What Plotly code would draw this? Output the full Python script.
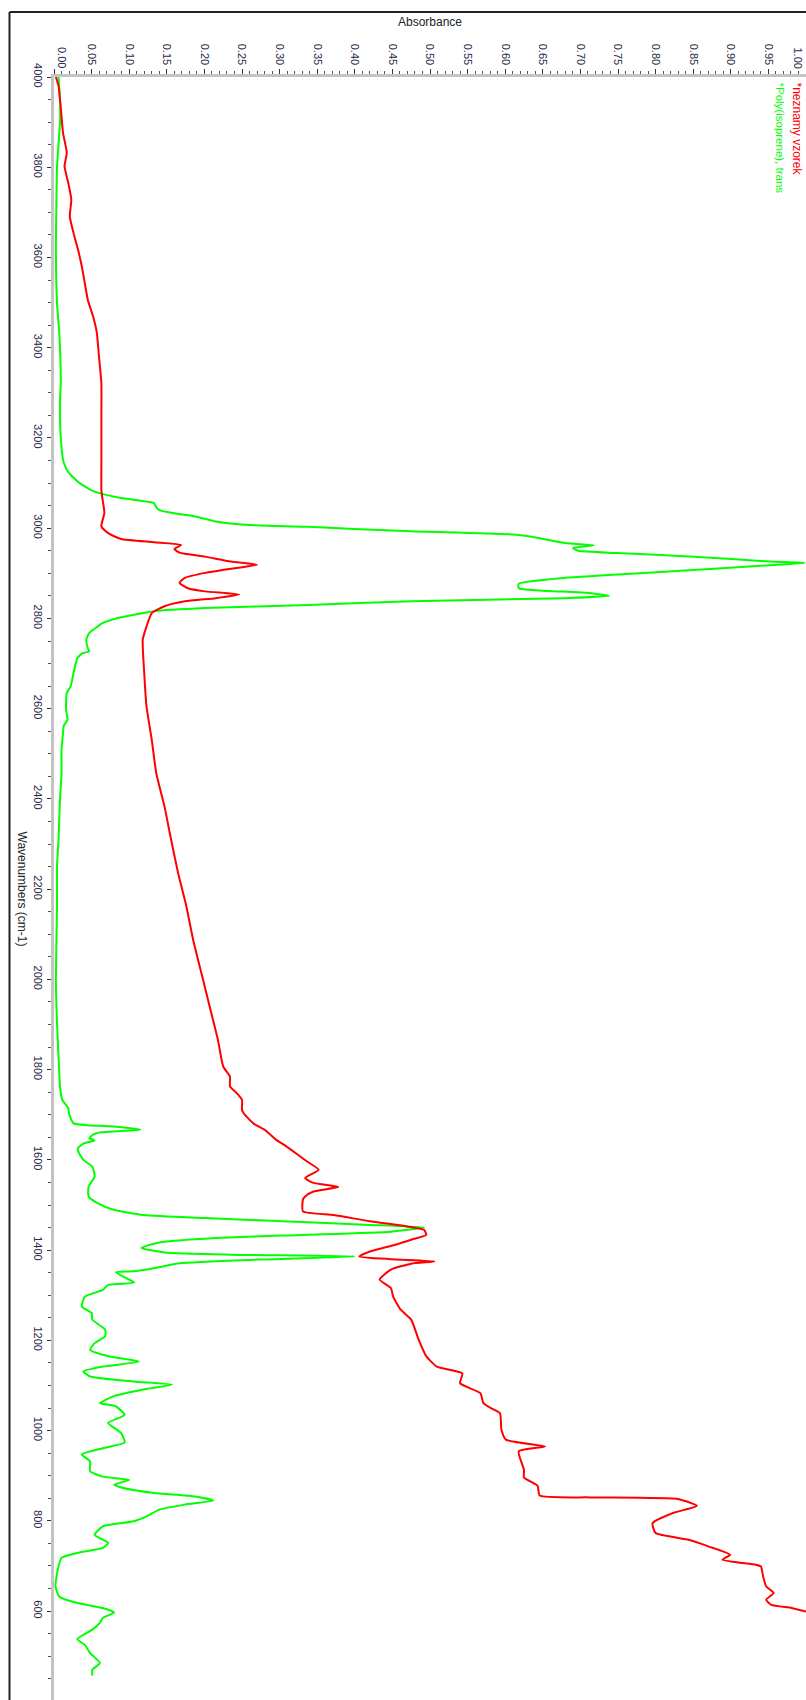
import plotly.graph_objects as go

# ---------------- data ----------------
green_wn = [4000, 3950, 3900, 3850, 3800, 3700, 3620, 3500, 3433, 3322, 3285, 3200, 3145, 3122, 3100,
            3081, 3067, 3056, 3052, 3040, 3026, 3015, 3008, 3003, 2993, 2986, 2978, 2967, 2962, 2956,
            2950, 2945, 2937, 2926, 2923, 2917, 2904, 2890, 2877, 2867, 2862, 2856, 2850, 2845, 2838,
            2830, 2823, 2816, 2808, 2801, 2790, 2782, 2768, 2753, 2734, 2727, 2723, 2712, 2701, 2679,
            2649, 2635, 2598, 2576, 2562, 2546, 2509, 2457, 2400, 2310, 2250, 2162, 2000, 1904, 1793,
            1763, 1733, 1715, 1703, 1689, 1681, 1677, 1674, 1667, 1661, 1656, 1648, 1643, 1636, 1626,
            1619, 1600, 1585, 1563, 1541, 1519, 1504, 1490, 1478, 1471, 1464, 1456, 1450, 1441, 1434,
            1427, 1417, 1405, 1395, 1390, 1386, 1379, 1371, 1360, 1353, 1351, 1338, 1328, 1323, 1312,
            1297, 1275, 1261, 1246, 1224, 1209, 1194, 1179, 1165, 1153, 1142, 1131, 1120, 1109, 1102,
            1091, 1076, 1061, 1054, 1035, 1017, 995, 974, 961, 947, 932, 910, 898, 891, 880,
            873, 862, 854, 845, 836, 825, 810, 799, 788, 769, 751, 740, 729, 718, 692,
            655, 632, 618, 607, 597, 585, 574, 559, 538, 525, 507, 485, 470, 457]
green_abs = [0.006, 0.008, 0.008, 0.006, 0.004, 0.003, 0.0025, 0.004, 0.007, 0.009, 0.008, 0.009, 0.013, 0.020, 0.034,
             0.054, 0.089, 0.133, 0.134, 0.140, 0.188, 0.215, 0.249, 0.338, 0.475, 0.611, 0.646, 0.680, 0.718, 0.690,
             0.697, 0.748, 0.851, 0.953, 0.998, 0.940, 0.817, 0.680, 0.618, 0.618, 0.646, 0.714, 0.738, 0.680, 0.475,
             0.338, 0.201, 0.133, 0.106, 0.085, 0.065, 0.058, 0.047, 0.043, 0.045, 0.047, 0.038, 0.031, 0.029, 0.026,
             0.022, 0.017, 0.016, 0.018, 0.013, 0.012, 0.010, 0.010, 0.008, 0.006, 0.004, 0.004, 0.0025, 0.004, 0.007,
             0.008, 0.011, 0.019, 0.020, 0.023, 0.026, 0.043, 0.079, 0.115, 0.061, 0.052, 0.047, 0.054, 0.039, 0.032,
             0.032, 0.039, 0.051, 0.054, 0.046, 0.046, 0.058, 0.078, 0.119, 0.201, 0.304, 0.420, 0.492, 0.448, 0.338,
             0.215, 0.140, 0.116, 0.147, 0.235, 0.400, 0.270, 0.167, 0.133, 0.106, 0.082, 0.096, 0.107, 0.072, 0.065,
             0.041, 0.037, 0.050, 0.051, 0.068, 0.068, 0.054, 0.048, 0.072, 0.113, 0.065, 0.039, 0.048, 0.106, 0.157,
             0.119, 0.079, 0.061, 0.082, 0.094, 0.072, 0.089, 0.094, 0.065, 0.037, 0.048, 0.048, 0.065, 0.100, 0.080,
             0.092, 0.133, 0.188, 0.212, 0.174, 0.140, 0.123, 0.106, 0.065, 0.054, 0.072, 0.065, 0.031, 0.010, 0.005,
             0.002, 0.007, 0.031, 0.065, 0.080, 0.065, 0.061, 0.051, 0.031, 0.041, 0.048, 0.061, 0.051, 0.051]

red_wn = [4000, 3980, 3950, 3913, 3876, 3832, 3802, 3765, 3728, 3691, 3654, 3617, 3580, 3543, 3506,
          3469, 3433, 3396, 3359, 3322, 3250, 3150, 3085, 3070, 3034, 3004, 2989, 2976, 2969, 2963,
          2954, 2946, 2937, 2926, 2919, 2912, 2901, 2890, 2879, 2867, 2860, 2853, 2845, 2838, 2827,
          2812, 2782, 2753, 2679, 2605, 2531, 2457, 2383, 2324, 2236, 2162, 2088, 2014, 1940, 1866,
          1807, 1785, 1763, 1748, 1733, 1711, 1704, 1681, 1667, 1645, 1630, 1608, 1597, 1578, 1560,
          1549, 1540, 1530, 1519, 1512, 1486, 1478, 1464, 1453, 1445, 1434, 1423, 1412, 1397, 1386,
          1380, 1375, 1370, 1357, 1335, 1316, 1297, 1268, 1246, 1201, 1165, 1142, 1127, 1105, 1083,
          1061, 1050, 1039, 1002, 980, 965, 954, 913, 896, 878, 856, 852, 848, 833, 818,
          795, 773, 758, 743, 725, 714, 703, 699, 677, 655, 640, 625, 614, 607, 599]
red_abs = [0.0025, 0.006, 0.008, 0.010, 0.012, 0.017, 0.014, 0.019, 0.023, 0.021, 0.026, 0.032, 0.037, 0.041, 0.045,
           0.052, 0.057, 0.059, 0.061, 0.063, 0.063, 0.063, 0.063, 0.064, 0.067, 0.063, 0.072, 0.089, 0.133, 0.169,
           0.160, 0.167, 0.201, 0.235, 0.270, 0.243, 0.201, 0.174, 0.167, 0.178, 0.201, 0.246, 0.215, 0.174, 0.147,
           0.130, 0.123, 0.118, 0.120, 0.123, 0.130, 0.136, 0.147, 0.154, 0.165, 0.176, 0.185, 0.196, 0.207, 0.218,
           0.225, 0.234, 0.234, 0.243, 0.250, 0.250, 0.252, 0.265, 0.280, 0.295, 0.309, 0.327, 0.336, 0.352, 0.334,
           0.345, 0.378, 0.345, 0.334, 0.331, 0.331, 0.372, 0.420, 0.468, 0.492, 0.495, 0.475, 0.454, 0.420, 0.406,
           0.448, 0.506, 0.475, 0.448, 0.433, 0.448, 0.451, 0.461, 0.475, 0.485, 0.495, 0.509, 0.543, 0.540, 0.567,
           0.571, 0.581, 0.593, 0.595, 0.601, 0.653, 0.618, 0.625, 0.625, 0.643, 0.646, 0.714, 0.831, 0.855, 0.824,
           0.796, 0.800, 0.844, 0.871, 0.899, 0.889, 0.933, 0.940, 0.943, 0.947, 0.957, 0.947, 0.954, 0.981, 1.000]

abs_ticks = [round(i * 0.05, 2) for i in range(21)]
abs_tick_text = ["" if v in (0.0, 1.0) else f"{v:.2f}" for v in abs_ticks]
wn_ticks = list(range(600, 4001, 200))
wn_tick_text = [str(v) for v in wn_ticks]

series_names = ["*neznamy vzorek", "*Poly(isoprene), trans"]
series_colors = ["#ff0000", "#00ff00"]

# ---------------- geometry ----------------
W, H = 806, 1700
ML, MR, MT, MB = 54, 0, 77, 0
PW, PH = W - ML - MR, H - MT - MB


def px(xp):
    return (xp - ML) / PW


def py(yp):
    return 1 - (yp - MT) / PH


FONT = "Liberation Sans, Arial, sans-serif"
TICKC = "#2a2a4a"

fig = go.Figure()
fig.add_trace(go.Scatter(x=green_abs, y=green_wn, mode="lines", name=series_names[1],
                         line=dict(color=series_colors[1], width=2, shape="spline", smoothing=0.5)))
fig.add_trace(go.Scatter(x=red_abs, y=red_wn, mode="lines", name=series_names[0],
                         line=dict(color=series_colors[0], width=2, shape="spline", smoothing=0.5)))

fig.update_layout(
    width=W, height=H,
    margin=dict(l=ML, r=MR, t=MT, b=MB, autoexpand=False),
    paper_bgcolor="white", plot_bgcolor="white",
    showlegend=False,
    font=dict(family=FONT, size=11, color=TICKC),
    xaxis=dict(side="top", range=[0, 1.0], tickmode="array", tickvals=abs_ticks, ticktext=abs_tick_text,
               tickangle=90, ticks="outside", ticklen=5, tickwidth=1, tickcolor="#333",
               minor=dict(dtick=0.01, tick0=0, ticks="outside", ticklen=3, tickcolor="#555"),
               showline=True, linecolor="#c4c4c4", linewidth=3, showgrid=False, zeroline=False,
               tickfont=dict(size=11, color=TICKC, family=FONT)),
    yaxis=dict(range=[403, 4000], tickmode="array", tickvals=wn_ticks, ticktext=wn_tick_text,
               tickangle=90, ticks="outside", ticklen=4, tickwidth=1, tickcolor="#333",
               minor=dict(dtick=50, tick0=0, ticks="outside", ticklen=3, tickcolor="#555"),
               showline=True, linecolor="#c4c4c4", linewidth=3, showgrid=False, zeroline=False,
               tickfont=dict(size=11, color=TICKC, family=FONT)),
)

# frame
fig.add_shape(type="line", xref="paper", yref="paper", x0=px(9.5), y0=py(12), x1=px(W + 5), y1=py(12),
              line=dict(color="#222", width=2))
fig.add_shape(type="line", xref="paper", yref="paper", x0=px(9.5), y0=py(12), x1=px(9.5), y1=py(H + 5),
              line=dict(color="#222", width=2))

ann = []
ann.append(dict(text="Absorbance", x=0.5, y=py(22), xref="paper", yref="paper", showarrow=False,
                xanchor="center", yanchor="middle", font=dict(size=12, color="#222", family=FONT)))
ann.append(dict(text="Wavenumbers (cm-1)", x=px(21.5), y=py(889), xref="paper", yref="paper", showarrow=False,
                textangle=90, xanchor="center", yanchor="middle", font=dict(size=12, color="#222", family=FONT)))
ann.append(dict(text="0.00", x=px(62.5), y=py(70), xref="paper", yref="paper", showarrow=False,
                textangle=90, xanchor="center", yanchor="bottom", font=dict(size=11, color=TICKC, family=FONT)))
ann.append(dict(text="1.00", x=px(798), y=py(70), xref="paper", yref="paper", showarrow=False,
                textangle=90, xanchor="center", yanchor="bottom", font=dict(size=11, color=TICKC, family=FONT)))
ann.append(dict(text=series_names[0], x=px(797), y=py(80), xref="paper", yref="paper", showarrow=False,
                textangle=90, xanchor="center", yanchor="top", font=dict(size=12, color=series_colors[0], family=FONT)))
ann.append(dict(text=series_names[1], x=px(780), y=py(80), xref="paper", yref="paper", showarrow=False,
                textangle=90, xanchor="center", yanchor="top", font=dict(size=11.5, color=series_colors[1], family=FONT)))
fig.update_layout(annotations=ann)

fig.write_html("out.html", config={"displayModeBar": False},
               post_script="document.body.style.margin='0';document.body.style.padding='0';")
